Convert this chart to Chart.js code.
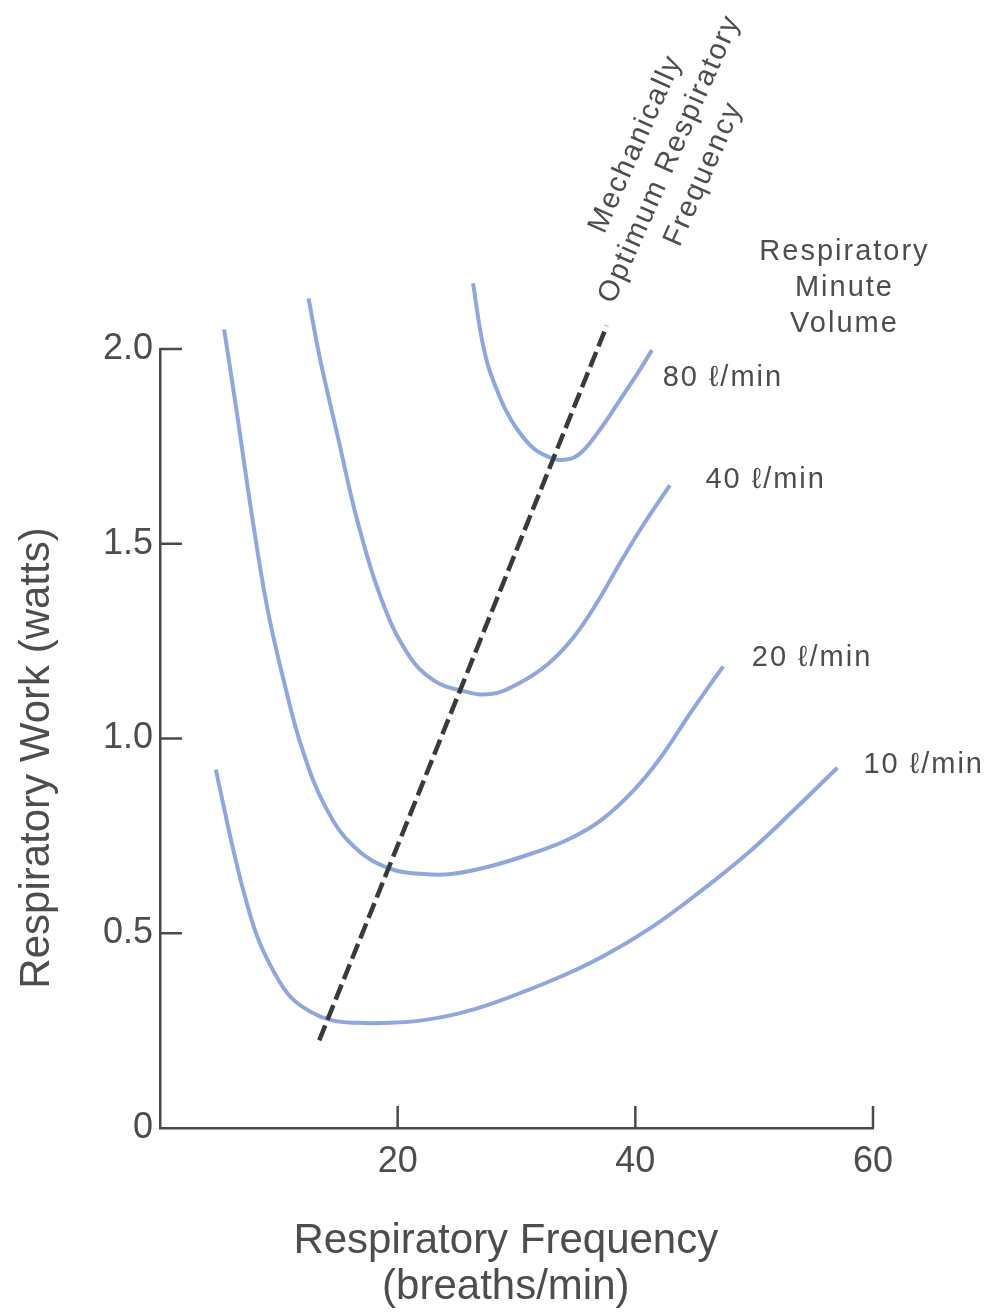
<!DOCTYPE html>
<html>
<head>
<meta charset="utf-8">
<script src="https://cdn.jsdelivr.net/npm/chart.js@4.4.0/dist/chart.umd.min.js"></script>
<style>
  html, body { margin: 0; padding: 0; background: #fff; }
</style>
</head>
<body>
<canvas id="workChart" width="992" height="1312"></canvas>
<script>
// valores: frequência (resp/min) e trabalho (watts) para cada volume minuto
const freq10 = [4.7, 5.4, 6.2, 7.1, 8.2, 9.6, 11.0, 12.7, 14.4, 16.6, 19.4, 22.2, 25.0, 27.8, 32.9, 37.1, 41.3, 45.5, 49.7, 53.3, 57.0];
const work10 = [0.92, 0.82, 0.71, 0.60, 0.49, 0.40, 0.336, 0.298, 0.277, 0.270, 0.270, 0.277, 0.293, 0.318, 0.378, 0.438, 0.514, 0.608, 0.712, 0.815, 0.925];

const freq20 = [5.4, 6.5, 7.7, 9.0, 10.4, 12.0, 14.0, 16.4, 19.4, 22.2, 24.5, 27.8, 31.4, 34.3, 37.1, 39.8, 42.1, 44.4, 46.1, 47.4];
const work20 = [2.05, 1.83, 1.58, 1.34, 1.15, 0.97, 0.82, 0.72, 0.665, 0.652, 0.652, 0.672, 0.706, 0.74, 0.79, 0.865, 0.95, 1.055, 1.13, 1.185];

const freq40 = [12.5, 13.5, 15.0, 16.6, 18.6, 20.8, 23.0, 25.5, 27.8, 30.1, 32.6, 34.8, 36.8, 38.7, 40.7, 42.9];
const work40 = [2.13, 1.97, 1.77, 1.56, 1.36, 1.22, 1.15, 1.122, 1.114, 1.14, 1.19, 1.26, 1.35, 1.45, 1.55, 1.65];

const freq80 = [26.35, 26.7, 27.1, 27.6, 28.3, 29.1, 30.1, 31.4, 32.7, 33.8, 35.2, 37.0, 38.7, 40.2, 41.4];
const work80 = [2.169, 2.095, 2.023, 1.958, 1.899, 1.843, 1.792, 1.746, 1.723, 1.715, 1.728, 1.792, 1.869, 1.938, 1.997];

// linha tracejada da frequência mecanicamente ótima
const optimumFreq = [13.4, 37.6];
const optimumWork = [0.225, 2.06];

const volumeLabels = ['80 \u2113/min', '40 \u2113/min', '20 \u2113/min', '10 \u2113/min'];
const volumeLabelFreq = [42.3, 45.9, 49.8, 59.2];
const volumeLabelWork = [1.925, 1.664, 1.207, 0.932];

const yTickValues = [0, 0.5, 1.0, 1.5, 2.0];
const xTickValues = [20, 40, 60];

const CURVE_COLOR = 'rgb(142, 166, 226)';
const AXIS_COLOR = '#4a4a4a';
const TEXT_COLOR = '#4d4d4d';
const FONT = '"Liberation Sans", Arial, Helvetica, sans-serif';

function toPoints(xs, ys) {
    return xs.map((v, i) => ({ x: v, y: ys[i] }));
}

function curve(xs, ys) {
    return {
        data: toPoints(xs, ys),
        borderColor: CURVE_COLOR,
        borderWidth: 4,
        pointRadius: 0,
        tension: 0.4,
        clip: false,
        order: 2
    };
}

// desenha várias linhas de texto centradas, com rotação opcional
function drawBlock(ctx, lines, px, py, lineHeight, angle, align) {
    ctx.save();
    ctx.translate(px, py);
    ctx.rotate(angle);
    ctx.textAlign = align;
    ctx.textBaseline = 'middle';
    const startY = -((lines.length - 1) * lineHeight) / 2;
    lines.forEach((t, i) => ctx.fillText(t, 0, startY + i * lineHeight));
    ctx.restore();
}

const annotationsPlugin = {
    id: 'annotations',
    beforeDraw(chart) {
        const ctx = chart.ctx;
        ctx.save();
        ctx.fillStyle = '#fff';
        ctx.fillRect(0, 0, chart.width, chart.height);
        ctx.restore();
    },
    afterDraw(chart) {
        const { ctx, scales: { x, y } } = chart;
        ctx.save();

        // marcas dos eixos viradas para dentro
        ctx.strokeStyle = AXIS_COLOR;
        ctx.lineWidth = 2.5;
        yTickValues.filter(v => v > 0).forEach(v => {
            const py = y.getPixelForValue(v);
            ctx.beginPath();
            ctx.moveTo(x.left, py);
            ctx.lineTo(x.left + 22, py);
            ctx.stroke();
        });
        xTickValues.forEach(v => {
            const px = x.getPixelForValue(v);
            ctx.beginPath();
            ctx.moveTo(px, y.bottom);
            ctx.lineTo(px, y.bottom - 22);
            ctx.stroke();
        });

        ctx.fillStyle = TEXT_COLOR;

        // títulos dos eixos
        ctx.font = '42px ' + FONT;
        drawBlock(ctx, ['Respiratory Frequency', '(breaths/min)'],
            x.getPixelForValue(29.1), y.bottom + 136, 46, 0, 'center');
        drawBlock(ctx, ['Respiratory Work (watts)'],
            37, y.getPixelForValue(0.95), 44, -Math.PI / 2, 'center');

        // rótulos das curvas
        ctx.font = '29px ' + FONT;
        ctx.letterSpacing = '2px';
        volumeLabels.forEach((t, i) => {
            drawBlock(ctx, [t], x.getPixelForValue(volumeLabelFreq[i]),
                y.getPixelForValue(volumeLabelWork[i]), 36, 0, 'left');
        });

        drawBlock(ctx, ['Respiratory', 'Minute', 'Volume'],
            x.getPixelForValue(57.6), y.getPixelForValue(2.157), 36, 0, 'center');

        drawBlock(ctx, ['Mechanically', 'Optimum Respiratory', 'Frequency'],
            x.getPixelForValue(42.9), y.getPixelForValue(2.488), 37, -66 * Math.PI / 180, 'center');

        ctx.restore();
    }
};

document.addEventListener('DOMContentLoaded', function () {
    Chart.defaults.font.family = FONT;
    Chart.defaults.color = TEXT_COLOR;

    const canvas = document.getElementById('workChart');
    new Chart(canvas.getContext('2d'), {
        type: 'line',
        data: {
            datasets: [
                {
                    data: toPoints(optimumFreq, optimumWork),
                    borderColor: '#3a3a3a',
                    borderWidth: 4.5,
                    borderDash: [16, 6],
                    pointRadius: 0,
                    clip: false,
                    order: 1
                },
                curve(freq80, work80),
                curve(freq40, work40),
                curve(freq20, work20),
                curve(freq10, work10)
            ]
        },
        options: {
            responsive: false,
            animation: false,
            events: [],
            layout: { padding: { top: 349, right: 119, left: 0, bottom: 0 } },
            plugins: {
                legend: { display: false },
                tooltip: { enabled: false }
            },
            scales: {
                x: {
                    type: 'linear',
                    min: 0,
                    max: 60,
                    afterFit: scale => { scale.height = 184; },
                    afterBuildTicks: scale => { scale.ticks = [0].concat(xTickValues).map(v => ({ value: v })); },
                    ticks: {
                        font: { size: 36 },
                        padding: 12,
                        maxRotation: 0,
                        callback: v => (v === 0 ? '' : v)
                    },
                    grid: { display: false, drawTicks: false },
                    border: { display: true, color: AXIS_COLOR, width: 2.5 }
                },
                y: {
                    type: 'linear',
                    min: 0,
                    max: 2.0,
                    afterFit: scale => { scale.width = 160; },
                    afterBuildTicks: scale => { scale.ticks = yTickValues.map(v => ({ value: v })); },
                    ticks: {
                        font: { size: 36 },
                        padding: 7,
                        callback: v => (v === 0 ? '0' : v.toFixed(1))
                    },
                    grid: { display: false, drawTicks: false },
                    border: { display: true, color: AXIS_COLOR, width: 2.5 }
                }
            }
        },
        plugins: [annotationsPlugin]
    });
});
</script>
</body>
</html>
